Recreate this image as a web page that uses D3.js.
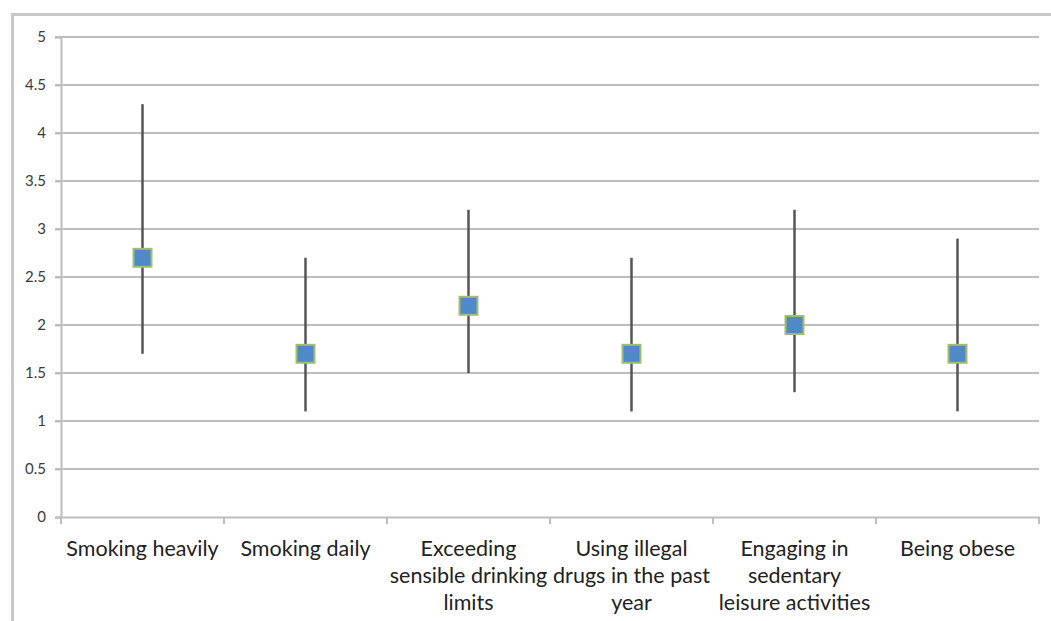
<!DOCTYPE html>
<html><head><meta charset="utf-8">
<script src="https://cdn.jsdelivr.net/npm/d3@7"></script>
<style>body{margin:0;background:#fff}</style>
</head><body>
<script>
const categories = ["Smoking heavily","Smoking daily","Exceeding sensible drinking limits","Using illegal drugs in the past year","Engaging in sedentary leisure activities","Being obese"];
const labelLines = [["Smoking heavily"],["Smoking daily"],["Exceeding","sensible drinking","limits"],["Using illegal","drugs in the past","year"],["Engaging in","sedentary","leisure activities"],["Being obese"]];
const values = [2.7,1.7,2.2,1.7,2.0,1.7];
const lower = [1.7,1.1,1.5,1.1,1.3,1.1];
const upper = [4.3,2.7,3.2,2.7,3.2,2.9];
const yTicks = [0,0.5,1,1.5,2,2.5,3,3.5,4,4.5,5];

(function(){
const W=1051,H=621;
const svg=d3.select("body").append("svg").attr("width",W).attr("height",H).style("display","block");
svg.append("path").attr("d",`M12.5,${H+2} L12.5,14.5 L${W+2},14.5`).attr("fill","none").attr("stroke","#c8c8c8").attr("stroke-width",3);

const pL=61,pR=1039,pT=37,pB=517;
const x=d3.scaleBand().domain(categories).range([pL,pR]);
const y=d3.scaleLinear().domain([0,5]).range([pB,pT]);

svg.append("g").selectAll("line").data(yTicks.filter(d=>d>0)).join("line")
  .attr("x1",pL-6).attr("x2",pR).attr("y1",d=>y(d)).attr("y2",d=>y(d))
  .attr("stroke","#bdbdbd").attr("stroke-width",2);

const ya=svg.append("g").attr("transform",`translate(${pL},0)`).call(d3.axisLeft(y).tickValues(yTicks).tickSize(6).tickFormat(d=>String(d)));
ya.attr("font-size",null).attr("font-family",null);
ya.select(".domain").attr("stroke","#bdbdbd").attr("stroke-width",2);
ya.selectAll(".tick line").attr("stroke","#bdbdbd").attr("stroke-width",2);
ya.selectAll("text").style("font-family","Lato, 'Open Sans', sans-serif").style("font-size","15px").attr("fill","#3a3a3a").attr("x",-15);

const xa=svg.append("g").attr("transform",`translate(0,${pB})`).call(d3.axisBottom(x).tickSize(0).tickFormat(""));
xa.select(".domain").attr("stroke","#bdbdbd").attr("stroke-width",2);
const bounds=categories.map(c=>x(c)).concat([pR]);
svg.append("g").selectAll("line").data(bounds).join("line")
  .attr("x1",d=>d).attr("x2",d=>d).attr("y1",pB).attr("y2",pB+7)
  .attr("stroke","#bdbdbd").attr("stroke-width",2);

const lab=svg.append("g");
categories.forEach((c,i)=>{
  const cx=x(c)+x.bandwidth()/2;
  const t=lab.append("text").attr("text-anchor","middle")
    .style("font-family","Lato, 'Open Sans', sans-serif").style("font-size","21.5px").attr("fill","#222");
  labelLines[i].forEach((ln,j)=>{
    t.append("tspan").attr("x",cx).attr("y",556+j*27).text(ln);
  });
});

svg.append("g").selectAll("line").data(categories).join("line")
  .attr("x1",c=>x(c)+x.bandwidth()/2).attr("x2",c=>x(c)+x.bandwidth()/2)
  .attr("y1",(c,i)=>y(lower[i])).attr("y2",(c,i)=>y(upper[i]))
  .attr("stroke","#555").attr("stroke-width",2.5);

const s=18;
svg.append("g").selectAll("rect").data(categories).join("rect")
  .attr("x",c=>x(c)+x.bandwidth()/2-s/2).attr("y",(c,i)=>y(values[i])-s/2)
  .attr("width",s).attr("height",s)
  .attr("fill","#5089c8").attr("stroke","#a3bd70").attr("stroke-width",2);
})();
</script>
</body></html>
